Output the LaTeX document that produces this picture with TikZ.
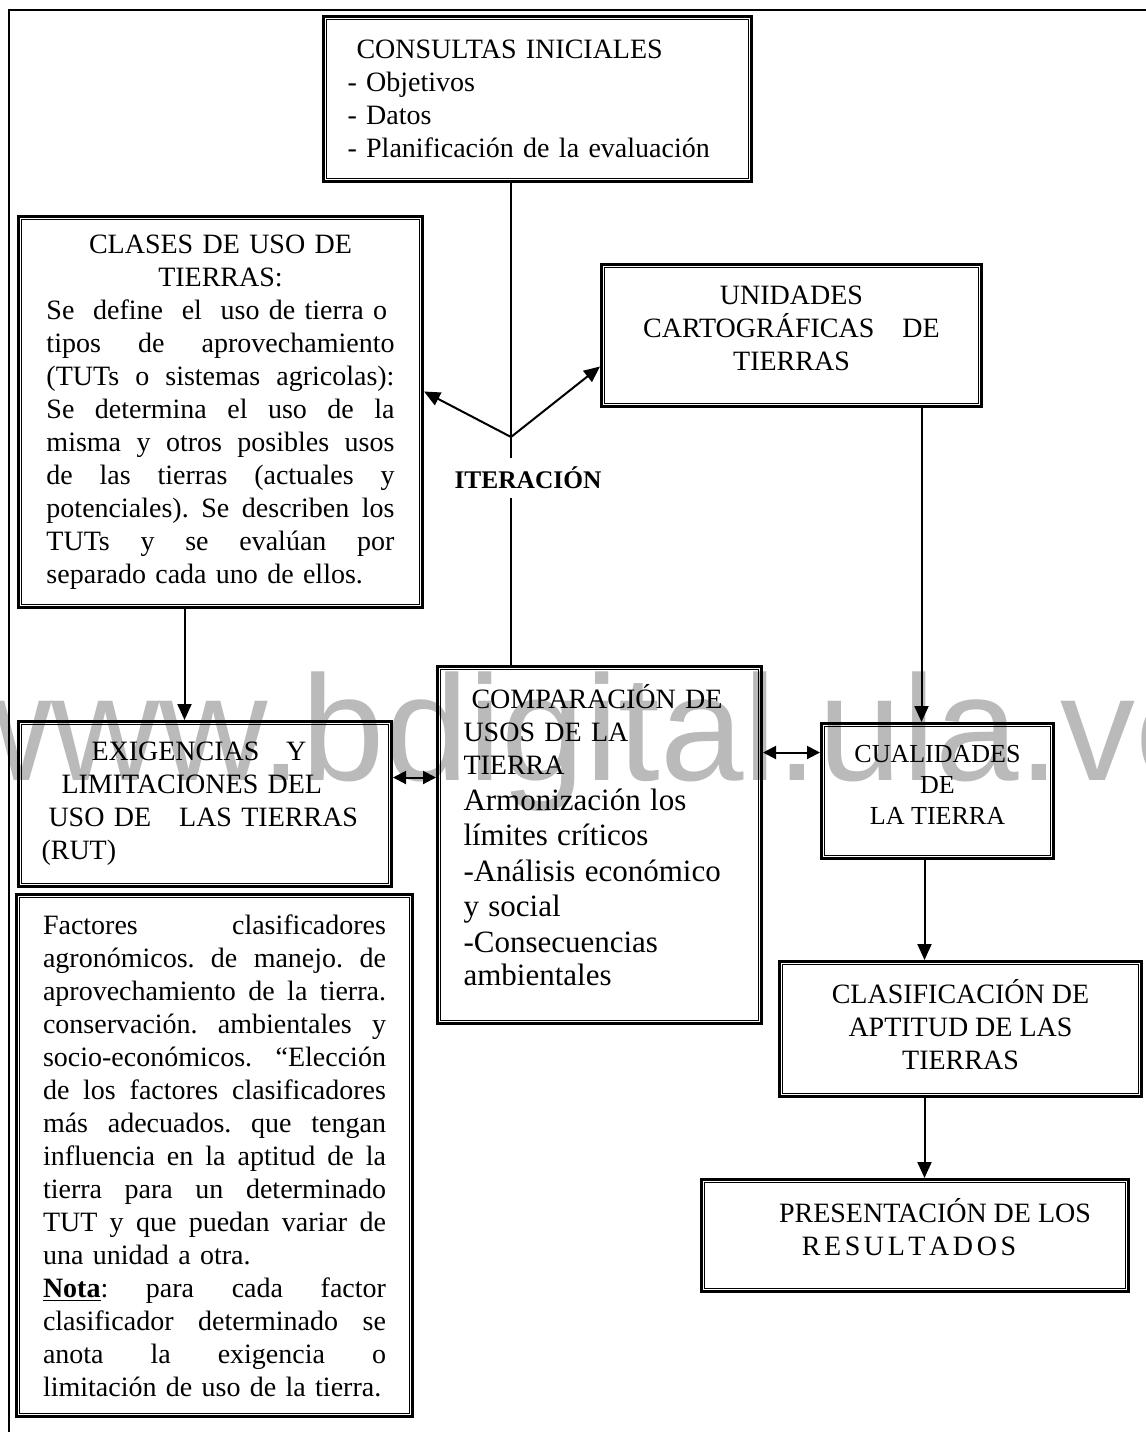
\documentclass[tikz,border=0pt]{standalone}
\usepackage{fontspec}
\setmainfont{Liberation Serif}
\newfontfamily\wmfont{Liberation Sans}
\usetikzlibrary{arrows.meta}
\frenchspacing
\newcommand\jl[2]{{\spaceskip=0pt\xspaceskip=0pt\makebox[#1][s]{#2}}}
\tikzset{
  dbox/.style={draw, line width=1.5pt, inner sep=0pt, anchor=north west,
    font=\fontsize{14}{16.5}\selectfont},
  innerframe/.style={line width=0.55pt},
  conn/.style={line width=1pt},
  arr/.style={conn, -{Triangle[length=8pt,width=7pt]}},
  darr/.style={conn, {Triangle[length=6.5pt,width=6.5pt]}-{Triangle[length=6.5pt,width=6.5pt]}},
}
\begin{document}
\begin{tikzpicture}[x=0.5pt,y=-0.5pt]
\useasboundingbox (0,0) rectangle (1146,1432);
\fill[white] (0,0) rectangle (1146,1432);
% watermark
\node[anchor=base west, text=black!27, font=\wmfont\fontsize{75}{75}\selectfont, inner sep=0pt] (wm) at (-57,780) {www.bdigital.ula.ve};
% page frame
\draw[line width=0.7pt] (1146,10) -- (9,10) -- (9,1432);

% boxes
\node[dbox, minimum width=214pt, minimum height=82.5pt, text width=190pt, align=left] (cons) at (322,15)
 {\hspace*{4.5pt}CONSULTAS INICIALES\\- Objetivos\\- Datos\\- Planificación de la evaluación};

\node[dbox, minimum width=202pt, minimum height=195.5pt, text width=174pt, align=left] (clases) at (17,215)
 {\makebox[174pt]{CLASES DE USO DE}\\
  \makebox[174pt]{TIERRAS:}\\
  Se\ \ define\ \ el\ \ uso de tierra o\\
  \jl{174pt}{tipos de aprovechamiento}\\
  \jl{174pt}{(TUTs o sistemas agricolas):}\\
  \jl{174pt}{Se determina el uso de la}\\
  \jl{174pt}{misma y otros posibles usos}\\
  \jl{174pt}{de las tierras (actuales y}\\
  \jl{174pt}{potenciales). Se describen los}\\
  \jl{174pt}{TUTs y se evalúan por}\\
  separado cada uno de ellos.};

\node[dbox, minimum width=190pt, minimum height=71pt, align=center, text depth=7pt] (unid) at (600,263)
 {UNIDADES\\CARTOGRÁFICAS\hspace{1em}DE\\TIERRAS};

\node[dbox, minimum width=186.5pt, minimum height=82.5pt, text width=163.5pt, align=left] (exig) at (17,720)
 {\hspace*{25pt}EXIGENCIAS\hspace{0.95em}Y\\
  \hspace*{10pt}LIMITACIONES DEL\\
  \hspace*{3.5pt}USO DE\hspace{1em}LAS TIERRAS\\
  (RUT)};

\node[dbox, minimum width=198pt, minimum height=261pt, text width=171.5pt, align=left] (fact) at (15,893)
 {\jl{171.5pt}{Factores clasificadores}\\
  \jl{171.5pt}{agronómicos. de manejo. de}\\
  \jl{171.5pt}{aprovechamiento de la tierra.}\\
  \jl{171.5pt}{conservación. ambientales y}\\
  \jl{171.5pt}{socio-económicos. ``Elección}\\
  \jl{171.5pt}{de los factores clasificadores}\\
  \jl{171.5pt}{más adecuados. que tengan}\\
  \jl{171.5pt}{influencia en la aptitud de la}\\
  \jl{171.5pt}{tierra para un determinado}\\
  \jl{171.5pt}{TUT y que puedan variar de}\\
  una unidad a otra.\\
  \jl{171.5pt}{\underline{\textbf{Nota}}: para cada factor}\\
  \jl{171.5pt}{clasificador determinado se}\\
  \jl{171.5pt}{anota la exigencia o}\\
  limitación de uso de la tierra.};

\node[dbox, minimum width=162pt, minimum height=178.5pt, text width=136pt, align=left] (comp) at (436,665)
 {\hspace*{4pt}COMPARACIÓN DE\\USOS DE LA\\TIERRA\par
  \noindent\fontsize{15.5}{17.8}\selectfont Armonización los\\límites críticos\\-Análisis económico\\y social\\-Consecuencias\\ambientales\rule[-10pt]{0pt}{10pt}};

\node[dbox, minimum width=116pt, minimum height=67.5pt, align=center, text depth=6pt, font=\fontsize{13}{15.5}\selectfont] (cual) at (820,722)
 {CUALIDADES\\DE\\LA TIERRA};

\node[dbox, minimum width=181pt, minimum height=67.5pt, align=center, text depth=5pt] (clasif) at (778,960)
 {CLASIFICACIÓN DE\\APTITUD DE LAS\\TIERRAS};

\node[dbox, minimum width=213.5pt, minimum height=56pt, align=center, text depth=9pt] (pres) at (700,1178)
 {\hspace*{20pt}PRESENTACIÓN DE LOS\\\hspace*{2pt}R\kern1.8pt E\kern1.8pt S\kern1.8pt U\kern1.8pt L\kern1.8pt T\kern1.8pt A\kern1.8pt D\kern1.8pt O\kern1.8pt S\hspace*{8pt}};

% inner frames
\foreach \n in {cons,clases,unid,exig,fact,comp,cual,clasif,pres}
  \draw[innerframe] ([shift={(2.2pt,-2.2pt)}]\n.north west) rectangle ([shift={(-2.2pt,2.2pt)}]\n.south east);

% iteration
\coordinate (iter) at (511,437);
\node[font=\bfseries\fontsize{12.7}{14}\selectfont, inner sep=0pt, minimum height=20pt] (itl) at (528,478) {ITERACIÓN};
\draw[conn] (iter |- cons.south) -- (iter |- itl.north);
\draw[conn] (iter |- itl.south) -- (iter |- comp.north);
\draw[arr] (iter) -- ([yshift=10.25pt]clases.east);
\draw[arr] (iter) -- ([yshift=-15.5pt]unid.west);

% flow arrows
\draw[arr] ([xshift=-18pt]clases.south) -- ([xshift=-18pt]clases.south |- exig.north);
\draw[arr] ([xshift=65pt]unid.south) -- ([xshift=65pt]unid.south |- cual.north);
\draw[arr] ([xshift=-6.5pt]cual.south) -- ([xshift=-6.5pt]cual.south |- clasif.north);
\draw[arr] ([xshift=-6.5pt]cual.south |- clasif.south) -- ([xshift=-6.5pt]cual.south |- pres.north);

% double arrows
\draw[darr] ([yshift=13.25pt]exig.east) -- ([yshift=13.25pt]exig.east -| comp.west);
\draw[darr] ([yshift=19.25pt]cual.west -| comp.east) -- ([yshift=19.25pt]cual.west);
\end{tikzpicture}
\end{document}
